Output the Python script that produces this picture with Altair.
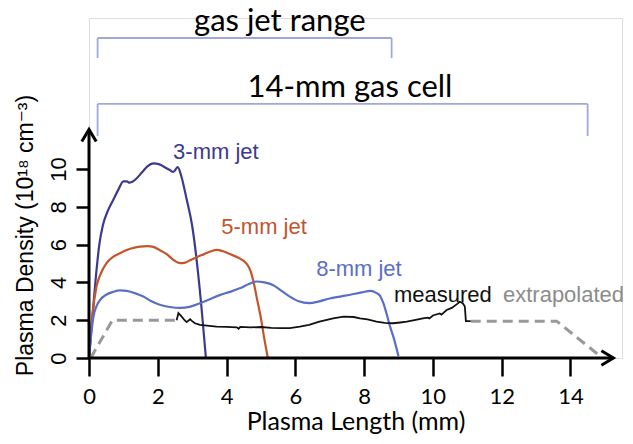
import altair as alt
import pandas as pd

# ---------------- data ----------------
jet3_x = [0, 0.1, 0.2, 0.3, 0.4, 0.55, 0.7, 0.85, 1.0, 1.1, 1.18, 1.35, 1.55, 1.7, 1.87,
          2.05, 2.2, 2.35, 2.45, 2.58, 2.68, 2.84, 3.0, 3.13, 3.27, 3.4]
jet3_y = [0, 2.2, 4.3, 6.0, 7.0, 7.8, 8.35, 8.9, 9.35, 9.35, 9.28, 9.45, 9.85, 10.15, 10.3,
          10.25, 10.1, 9.95, 9.85, 10.1, 9.65, 8.4, 7.0, 5.2, 2.7, 0]

jet5_x = [0, 0.1, 0.22, 0.35, 0.5, 0.7, 0.9, 1.2, 1.48, 1.7, 1.87, 2.05, 2.26, 2.45, 2.65,
          2.8, 2.94, 3.15, 3.35, 3.55, 3.72, 3.9, 4.1, 4.35, 4.58, 4.7, 4.8, 4.9, 4.98, 5.1, 5.2]
jet5_y = [0, 2.3, 3.8, 4.5, 5.0, 5.35, 5.55, 5.78, 5.9, 5.92, 5.88, 5.72, 5.5, 5.2, 5.02,
          5.05, 5.18, 5.35, 5.5, 5.65, 5.72, 5.65, 5.5, 5.3, 5.0, 4.6, 3.9, 3.0, 2.3, 1.0, 0]

jet8_x = [0, 0.05, 0.13, 0.22, 0.32, 0.5, 0.7, 0.9, 1.1, 1.35, 1.58, 1.8, 2.06, 2.35, 2.65,
          2.95, 3.23, 3.5, 3.8, 4.1, 4.4, 4.65, 4.87, 5.1, 5.36, 5.6, 5.84, 6.1, 6.4, 6.7,
          7.0, 7.3, 7.6, 7.9, 8.2, 8.35, 8.46, 8.56, 8.65, 8.75, 8.85, 9.0]
jet8_y = [0, 1.0, 2.2, 2.75, 3.07, 3.35, 3.5, 3.58, 3.55, 3.42, 3.25, 3.02, 2.82, 2.7, 2.65,
          2.72, 2.9, 3.1, 3.33, 3.5, 3.7, 3.92, 4.05, 4.0, 3.85, 3.55, 3.25, 3.0, 2.9, 3.0,
          3.15, 3.25, 3.35, 3.46, 3.55, 3.45, 3.3, 2.9, 2.37, 1.7, 1.13, 0.1]

meas_x = [2.55, 2.6, 2.69, 2.78, 2.84, 2.94, 3.0, 3.08, 3.23, 3.5, 3.71, 4.0, 4.3, 4.35, 4.4,
          4.7, 5.0, 5.3, 5.6, 5.84, 6.13, 6.4, 6.7, 7.1, 7.4, 7.7, 7.88, 8.1, 8.36, 8.6, 8.84,
          9.05, 9.24, 9.5, 9.71, 9.85, 9.9, 10.0, 10.2, 10.25, 10.4, 10.55, 10.7, 10.78, 10.87,
          10.93, 10.96, 11.1]
meas_y = [2.0, 2.38, 2.2, 2.0, 1.9, 2.05, 1.95, 1.84, 1.75, 1.7, 1.66, 1.65, 1.62, 1.55, 1.65,
          1.62, 1.64, 1.6, 1.58, 1.58, 1.66, 1.75, 1.92, 2.1, 2.19, 2.17, 2.1, 2.05, 1.92, 1.86,
          1.84, 1.88, 1.92, 2.02, 2.1, 2.14, 2.1, 2.25, 2.36, 2.3, 2.54, 2.65, 2.85, 2.98, 2.9,
          2.72, 1.95, 1.95]

extrap_seg = [1, 1, 1, 2, 2, 2]
extrap_x = [0.05, 0.68, 2.55, 11.1, 13.6, 14.9]
extrap_y = [0.0, 2.0, 2.0, 1.95, 1.95, 0.05]

series_names = ["3-mm jet", "5-mm jet", "8-mm jet"]
series_colors = ["#3c3a8e", "#c4552b", "#5b6ec6"]

label_text = ["3-mm jet", "5-mm jet", "8-mm jet", "measured"]
label_x = [3.69, 5.09, 7.85, 10.29]
label_y = [10.52, 6.56, 4.34, 2.96]
label_color = ["#3c3a8e", "#c4552b", "#5b6ec6", "#111111"]

extrap_label = ["extrapolated"]
extrap_label_x = [15.56]
extrap_label_y = [2.96]

bracket_text = ["gas jet range", "14-mm gas cell"]
bracket_x1 = [0.25, 0.25]
bracket_x2 = [8.8, 14.5]
bracket_top = [16.94, 13.45]
bracket_bot = [15.88, 11.75]
bracket_text_x = [5.55, 7.59]
bracket_text_y = [17.3, 13.81]

x_ticks = list(range(15))
y_ticks = list(range(12))
x_axis_end = 15.25
y_axis_end = 12.1

# ---------------- tables ----------------
jets = pd.DataFrame(
    [{"series": n, "x": x, "y": y}
     for n, xs_, ys_ in zip(series_names, [jet3_x, jet5_x, jet8_x], [jet3_y, jet5_y, jet8_y])
     for x, y in zip(xs_, ys_)]
)
meas = pd.DataFrame({"x": meas_x, "y": meas_y})
extrap = pd.DataFrame({"seg": extrap_seg, "x": extrap_x, "y": extrap_y})
labels = pd.DataFrame({"text": label_text, "x": label_x, "y": label_y, "color": label_color})
elabel = pd.DataFrame({"text": extrap_label, "x": extrap_label_x, "y": extrap_label_y})

segs = []
for x1, x2, t, b in zip(bracket_x1, bracket_x2, bracket_top, bracket_bot):
    segs.append({"x": x1, "x2": x2, "y": t, "y2": t})
    segs.append({"x": x1, "x2": x1, "y": b, "y2": t})
    segs.append({"x": x2, "x2": x2, "y": b, "y2": t})
brackets = pd.DataFrame(segs)
btext = pd.DataFrame({"text": bracket_text, "x": bracket_text_x, "y": bracket_text_y})

axes_lines = pd.DataFrame([
    {"x": 0, "x2": x_axis_end, "y": 0, "y2": 0},
    {"x": 0, "x2": 0, "y": 0, "y2": y_axis_end},
])
x_arrow = pd.DataFrame({"x": [x_axis_end], "y": [0]})
y_arrow = pd.DataFrame({"x": [0], "y": [y_axis_end]})

# ---------------- scales / axes ----------------
W, H = 533, 340
xs = alt.Scale(domain=[0, 15.5], nice=False, zero=False)
ys = alt.Scale(domain=[0, 18], nice=False, zero=False)

x_axis = alt.Axis(
    values=x_ticks,
    labelExpr="datum.value % 2 == 0 ? datum.label : ''",
    domain=False, grid=False,
    tickSize=18, tickWidth=2.5, tickColor="black",
    labelFont="Lato", labelFontSize=22, labelColor="black",
    labelBaseline="alphabetic", labelPadding=27, labelFlush=False,
    title="Plasma Length (mm)", titleFont="Lato", titleFontSize=25,
    titleFontWeight="normal", titleColor="black",
    titleBaseline="alphabetic", titleY=71,
)
y_axis = alt.Axis(
    values=y_ticks,
    labelExpr="(datum.value % 2 == 0 && datum.value <= 10) ? datum.label : ''",
    domain=False, grid=False,
    tickSize=13, tickWidth=2.5, tickColor="black",
    labelFont="Liberation Sans", labelFontSize=22, labelColor="black",
    labelAngle=270, labelAlign="center", labelBaseline="alphabetic",
    labelPadding=11, labelFlush=False,
    title="Plasma Density (10¹⁸ cm⁻³)", titleFont="Liberation Sans, DejaVu Sans",
    titleFontSize=23, titleFontWeight="normal", titleColor="black",
    titleAngle=270, titleAlign="center", titleBaseline="middle",
    titleX=-64, titleY=217,
)

base_x = alt.X("x:Q", scale=xs, axis=x_axis)
base_y = alt.Y("y:Q", scale=ys, axis=y_axis)

jet_layer = alt.Chart(jets).mark_line(strokeWidth=2.2, interpolate="monotone").encode(
    x=base_x, y=base_y,
    color=alt.Color("series:N", scale=alt.Scale(domain=series_names, range=series_colors), legend=None),
)
meas_layer = alt.Chart(meas).mark_line(strokeWidth=1.8, color="#111111").encode(
    x=alt.X("x:Q", scale=xs), y=alt.Y("y:Q", scale=ys))
extrap_layer = alt.Chart(extrap).mark_line(strokeWidth=3, color="#999999", strokeDash=[10, 6]).encode(
    x=alt.X("x:Q", scale=xs), y=alt.Y("y:Q", scale=ys), detail="seg:N")

axis_rules = alt.Chart(axes_lines).mark_rule(strokeWidth=3, color="black").encode(
    x=alt.X("x:Q", scale=xs), x2="x2:Q", y=alt.Y("y:Q", scale=ys), y2="y2:Q")
xa = alt.Chart(x_arrow).mark_point(shape="M-1,-0.6L0,0L-1,0.6", size=576, filled=False,
                                   stroke="black", strokeWidth=3, opacity=1).encode(
    x=alt.X("x:Q", scale=xs), y=alt.Y("y:Q", scale=ys))
ya = alt.Chart(y_arrow).mark_point(shape="M-0.6,1L0,0L0.6,1", size=576, filled=False,
                                   stroke="black", strokeWidth=3, opacity=1).encode(
    x=alt.X("x:Q", scale=xs), y=alt.Y("y:Q", scale=ys))

bracket_layer = alt.Chart(brackets).mark_rule(strokeWidth=1.8, color="#a0a8da").encode(
    x=alt.X("x:Q", scale=xs), x2="x2:Q", y=alt.Y("y:Q", scale=ys), y2="y2:Q")
btext_layer = alt.Chart(btext).mark_text(font="Lato", fontSize=31, align="center",
                                         baseline="alphabetic", color="black").encode(
    x=alt.X("x:Q", scale=xs), y=alt.Y("y:Q", scale=ys), text="text:N")

label_layer = alt.Chart(labels).mark_text(font="Liberation Sans", fontSize=22, align="center",
                                          baseline="alphabetic").encode(
    x=alt.X("x:Q", scale=xs), y=alt.Y("y:Q", scale=ys), text="text:N",
    color=alt.Color("color:N", scale=None))
elabel_layer = alt.Chart(elabel).mark_text(font="Liberation Sans", fontSize=22, align="right",
                                           baseline="alphabetic", color="#8c8c8c").encode(
    x=alt.X("x:Q", scale=xs), y=alt.Y("y:Q", scale=ys), text="text:N")

chart = alt.layer(
    jet_layer, extrap_layer, meas_layer, axis_rules, xa, ya,
    bracket_layer, btext_layer, label_layer, elabel_layer,
).properties(
    width=W, height=H,
    autosize=alt.AutoSizeParams(type="none"),
    padding={"left": 81, "top": 10, "right": 3, "bottom": 78},
).configure_view(stroke=None).configure(background="white")

chart.save("out.html", embed_options={"renderer": "svg", "actions": False})
